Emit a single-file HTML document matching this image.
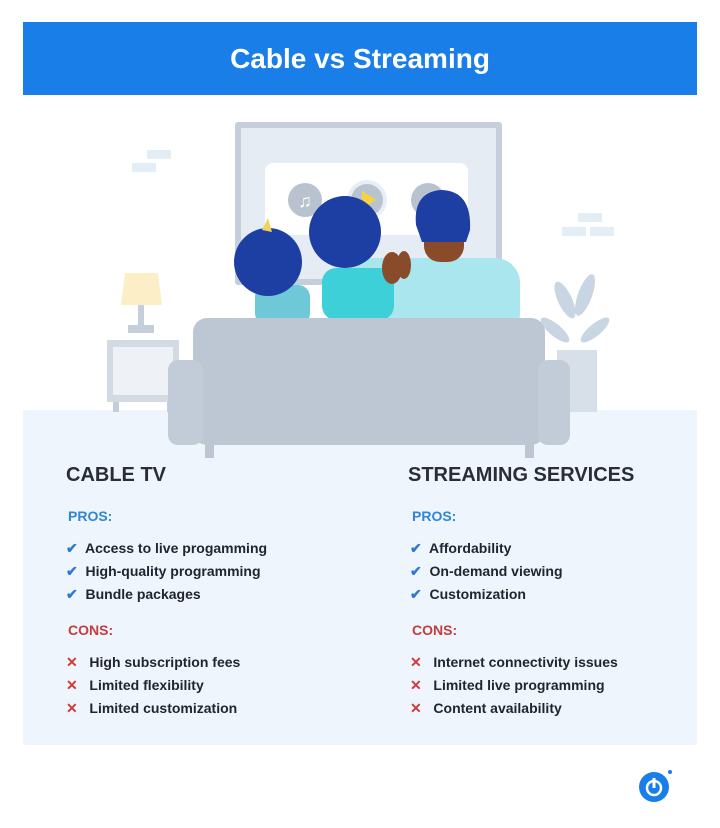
<!DOCTYPE html>
<html><head><style>
body{margin:0;width:720px;height:828px;background:#fff;font-family:"Liberation Sans",sans-serif;position:relative;overflow:hidden}
.t{position:absolute;font-weight:bold;white-space:nowrap}
</style></head><body>
<svg width="720" height="828" style="position:absolute;left:0;top:0">
<rect x="23" y="22" width="674" height="73" fill="#1a7ee8"/>
<text x="360" y="68" text-anchor="middle" font-family="Liberation Sans" font-weight="bold" font-size="28" fill="#fff">Cable vs Streaming</text>
<rect x="23" y="410" width="674" height="335" fill="#eef5fc"/>
<rect x="147" y="150" width="24" height="9" fill="#e3edf6"/><rect x="132" y="163" width="24" height="9" fill="#e3edf6"/>
<rect x="578" y="213" width="24" height="9" fill="#e3edf6"/><rect x="562" y="227" width="24" height="9" fill="#e3edf6"/><rect x="590" y="227" width="24" height="9" fill="#e3edf6"/>
<rect x="235" y="122" width="267" height="163" rx="3" fill="#c5cfdc"/>
<rect x="241" y="128" width="255" height="151" fill="#e6ecf3"/>
<rect x="265" y="163" width="203" height="72" rx="8" fill="#fff"/>
<circle cx="305" cy="200" r="17" fill="#b9c3cf"/><text x="305" y="207" text-anchor="middle" font-size="18" fill="#fff">♫</text>
<circle cx="367" cy="200" r="20" fill="#e8eef6"/><circle cx="367" cy="200" r="16" fill="#b9c3cf"/><polygon points="362,191 362,209 376,200" fill="#f5d340"/>
<circle cx="428" cy="200" r="17" fill="#b9c3cf"/>
<polygon points="125,273 158,273 162,305 121,305" fill="#fcefc8"/>
<rect x="138" y="305" width="6" height="22" fill="#c5cfdc"/><rect x="128" y="325" width="26" height="8" fill="#c5cfdc"/>
<rect x="107" y="340" width="72" height="62" fill="#d2dae4"/><rect x="113" y="347" width="60" height="48" fill="#eef2f7"/>
<rect x="113" y="402" width="6" height="10" fill="#c5cfdc"/><rect x="167" y="402" width="6" height="10" fill="#c5cfdc"/>
<g fill="#c7d6e2"><ellipse cx="565" cy="300" rx="7" ry="20" transform="rotate(-25 565 300)"/><ellipse cx="585" cy="295" rx="7" ry="22" transform="rotate(20 585 295)"/><ellipse cx="555" cy="330" rx="6" ry="18" transform="rotate(-50 555 330)"/><ellipse cx="595" cy="330" rx="6" ry="18" transform="rotate(50 595 330)"/></g>
<rect x="557" y="350" width="40" height="62" fill="#d7dfe8"/>
<rect x="255" y="285" width="55" height="40" rx="12" fill="#6fc8d8"/>
<circle cx="268" cy="262" r="34" fill="#1d3ea3"/>
<polygon points="262,230 268,218 272,232" fill="#f0d35a"/>
<rect x="345" y="258" width="175" height="80" rx="25" fill="#a9e6ee"/>
<rect x="322" y="268" width="72" height="52" rx="14" fill="#3ed0d8"/>
<circle cx="345" cy="232" r="36" fill="#1d3ea3"/>
<ellipse cx="392" cy="268" rx="10" ry="16" fill="#8a4b2a"/><ellipse cx="404" cy="265" rx="7" ry="14" fill="#8a4b2a"/>
<rect x="424" y="210" width="40" height="52" rx="16" fill="#8a4b2a"/>
<path d="M416 225 Q413 193 440 190 Q472 190 470 230 L466 242 L422 242 Z" fill="#1d3ea3"/>
<rect x="193" y="318" width="352" height="127" rx="14" fill="#bcc7d3"/>
<rect x="168" y="360" width="35" height="85" rx="10" fill="#c2ccd8"/>
<rect x="538" y="360" width="32" height="85" rx="10" fill="#c2ccd8"/>
<rect x="205" y="443" width="9" height="15" fill="#bcc7d3"/><rect x="525" y="443" width="9" height="15" fill="#bcc7d3"/>
<circle cx="654" cy="787" r="15" fill="#1a7ee8"/>
<circle cx="654" cy="788" r="7" fill="none" stroke="#fff" stroke-width="2.5"/><rect x="652.5" y="778" width="3" height="10" fill="#fff"/>
<circle cx="670" cy="772" r="2" fill="#1a7ee8"/>
</svg>
<div class="t" style="left:66px;top:464px;font-size:20px;color:#2a2d36">CABLE TV</div>
<div class="t" style="left:68px;top:508px;font-size:14px;color:#2f86d8">PROS:</div>
<div class="t" style="left:66px;top:537px;font-size:14px;color:#22252c;line-height:23px"><span style="color:#2f78d8">✔</span>&nbsp; Access to live progamming<br><span style="color:#2f78d8">✔</span>&nbsp; High-quality programming<br><span style="color:#2f78d8">✔</span>&nbsp; Bundle packages</div>
<div class="t" style="left:68px;top:622px;font-size:14px;color:#c43c3c">CONS:</div>
<div class="t" style="left:66px;top:651px;font-size:14px;color:#22252c;line-height:23px"><span style="color:#d03a3a">✕</span>&nbsp;&nbsp; High subscription fees<br><span style="color:#d03a3a">✕</span>&nbsp;&nbsp; Limited flexibility<br><span style="color:#d03a3a">✕</span>&nbsp;&nbsp; Limited customization</div>
<div class="t" style="left:408px;top:464px;font-size:20px;color:#2a2d36">STREAMING SERVICES</div>
<div class="t" style="left:412px;top:508px;font-size:14px;color:#2f86d8">PROS:</div>
<div class="t" style="left:410px;top:537px;font-size:14px;color:#22252c;line-height:23px"><span style="color:#2f78d8">✔</span>&nbsp; Affordability<br><span style="color:#2f78d8">✔</span>&nbsp; On-demand viewing<br><span style="color:#2f78d8">✔</span>&nbsp; Customization</div>
<div class="t" style="left:412px;top:622px;font-size:14px;color:#c43c3c">CONS:</div>
<div class="t" style="left:410px;top:651px;font-size:14px;color:#22252c;line-height:23px"><span style="color:#d03a3a">✕</span>&nbsp;&nbsp; Internet connectivity issues<br><span style="color:#d03a3a">✕</span>&nbsp;&nbsp; Limited live programming<br><span style="color:#d03a3a">✕</span>&nbsp;&nbsp; Content availability</div>
</body></html>
